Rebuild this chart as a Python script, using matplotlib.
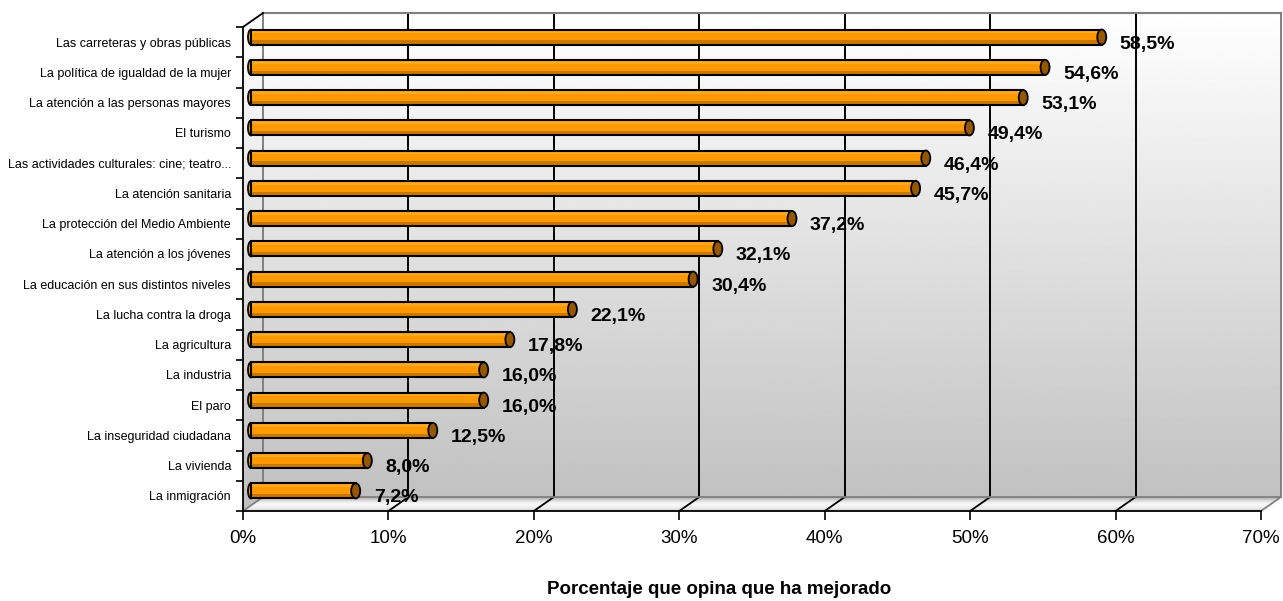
import numpy as np
import matplotlib
matplotlib.use('Agg')
import matplotlib.pyplot as plt
from matplotlib.patches import Polygon, Ellipse

plt.rcParams['font.family'] = ['Liberation Sans', 'DejaVu Sans']

# datos (de arriba a abajo)
categorias = ['Las carreteras y obras públicas', 'La política de igualdad de la mujer',
              'La atención a las personas mayores', 'El turismo',
              'Las actividades culturales: cine; teatro...', 'La atención sanitaria',
              'La protección del Medio Ambiente', 'La atención a los jóvenes',
              'La educación en sus distintos niveles', 'La lucha contra la droga',
              'La agricultura', 'La industria', 'El paro', 'La inseguridad ciudadana',
              'La vivienda', 'La inmigración']
porcentajes = [58.5, 54.6, 53.1, 49.4, 46.4, 45.7, 37.2, 32.1, 30.4, 22.1,
               17.8, 16.0, 16.0, 12.5, 8.0, 7.2]
ticks_x = [0, 10, 20, 30, 40, 50, 60, 70]
titulo_x = 'Porcentaje que opina que ha mejorado'

n = len(categorias)
ypos = np.arange(n)[::-1]

fig = plt.figure(figsize=(12.83, 6.01), dpi=100)
ax = fig.add_axes([243 / 1283, 90 / 601, 1018 / 1283, 484 / 601])
ax.set_facecolor('none')

xmax = ticks_x[-1]
px_x = 1018 / xmax
px_y = 484 / n
dxu, dyu = 20 / px_x, 14 / px_y   # profundidad del fondo
bdx, bdy = 8 / px_x, 5 / px_y     # profundidad de las barras
y0, y1 = -0.5, n - 0.5

# pared con degradado
pared = [(0, y0), (0, y1), (dxu, y1 + dyu), (xmax + dxu, y1 + dyu),
         (xmax + dxu, y0 + dyu), (xmax, y0)]
p = Polygon(pared, closed=True, facecolor='none', edgecolor='none')
ax.add_patch(p)
grad = np.linspace(1.0, 0.75, 256).reshape(-1, 1)
im = ax.imshow(grad, cmap='gray', vmin=0, vmax=1, aspect='auto',
               extent=[0, xmax + dxu, y0, y1 + dyu], origin='upper', zorder=0)
im.set_clip_path(p)
im.set_clip_box(fig.bbox)

# suelo
suelo = [(0, y0), (dxu, y0 + dyu), (xmax + dxu, y0 + dyu), (xmax, y0)]
ps = Polygon(suelo, closed=True, facecolor='none', edgecolor='none')
ax.add_patch(ps)
gsuelo = np.array([0.72, 0.85, 0.95, 0.97, 0.93, 0.86]).reshape(-1, 1)
ims = ax.imshow(gsuelo, cmap='gray', vmin=0, vmax=1, aspect='auto',
                extent=[0, xmax + dxu, y0, y0 + dyu], origin='upper', zorder=0,
                interpolation='bilinear')
ims.set_clip_path(ps)
ims.set_clip_box(fig.bbox)

# cuadrícula del fondo y diagonales del suelo
for k in ticks_x:
    c = '#808080' if k in (0, xmax) else 'black'
    ax.plot([k + dxu, k + dxu], [y0 + dyu, y1 + dyu], color=c, lw=1.4,
            clip_on=False, zorder=1)
    ax.plot([k, k + dxu], [y0, y0 + dyu], color=c, lw=1.3, clip_on=False, zorder=1)
ax.plot([dxu, xmax + dxu], [y1 + dyu, y1 + dyu], color='#808080', lw=1.5, clip_on=False, zorder=1)
ax.plot([dxu, xmax + dxu], [y0 + dyu, y0 + dyu], color='#808080', lw=1.3, clip_on=False, zorder=1)
ax.plot([0, dxu], [y1, y1 + dyu], color='black', lw=1.3, clip_on=False, zorder=1)

# barras cilíndricas
ax.barh(ypos + bdy, porcentajes, height=0.5, left=bdx, color='#FF9900', zorder=3)
ax.barh(ypos + bdy + 0.17, porcentajes, height=0.1, left=bdx, color='#FFA824', zorder=3.1)
ax.barh(ypos + bdy - 0.18, porcentajes, height=0.14, left=bdx, color='#C97800', zorder=3.1)
ax.barh(ypos + bdy, porcentajes, height=0.5, left=bdx, fill=False,
        edgecolor='black', lw=1.5, zorder=3.2)
for y, v in zip(ypos, porcentajes):
    ax.add_patch(Ellipse((bdx + v, y + bdy), width=9 / px_x, height=0.5,
                         facecolor='#955800', edgecolor='black', lw=1.3, zorder=3.3))
    ax.add_patch(Ellipse((bdx, y + bdy), width=6 / px_x, height=0.5,
                         facecolor='#FF9900', edgecolor='black', lw=1.3, zorder=2.9))
    ax.annotate(f'{v:.1f}%'.replace('.', ','), xy=(bdx + v, y + bdy), xytext=(18, -7),
                textcoords='offset pixels', ha='left', va='center',
                fontsize=14, fontweight='bold', zorder=5)

ax.set_xlim(0, xmax)
ax.set_ylim(y0, y1)

for s in ['top', 'right']:
    ax.spines[s].set_visible(False)
for s in ['left', 'bottom']:
    ax.spines[s].set_linewidth(1.3)

ax.set_xticks(ticks_x)
ax.set_xticklabels([f'{k}%' for k in ticks_x])
ax.tick_params(axis='x', length=6.5, width=1.2, pad=7, labelsize=13.5)
ax.set_yticks(np.arange(y0, y1 + 0.1, 1))
ax.set_yticklabels([])
ax.tick_params(axis='y', which='major', length=5, width=1.2)
ax.set_yticks(ypos, minor=True)
ax.set_yticklabels(categorias, minor=True)
ax.tick_params(axis='y', which='minor', length=0, pad=8.6, labelsize=9)

fig.text(719 / 1283, 1 - 590 / 601, titulo_x, ha='center', va='center',
         fontsize=13.5, fontweight='bold')

fig.savefig('out.png', dpi=100)
